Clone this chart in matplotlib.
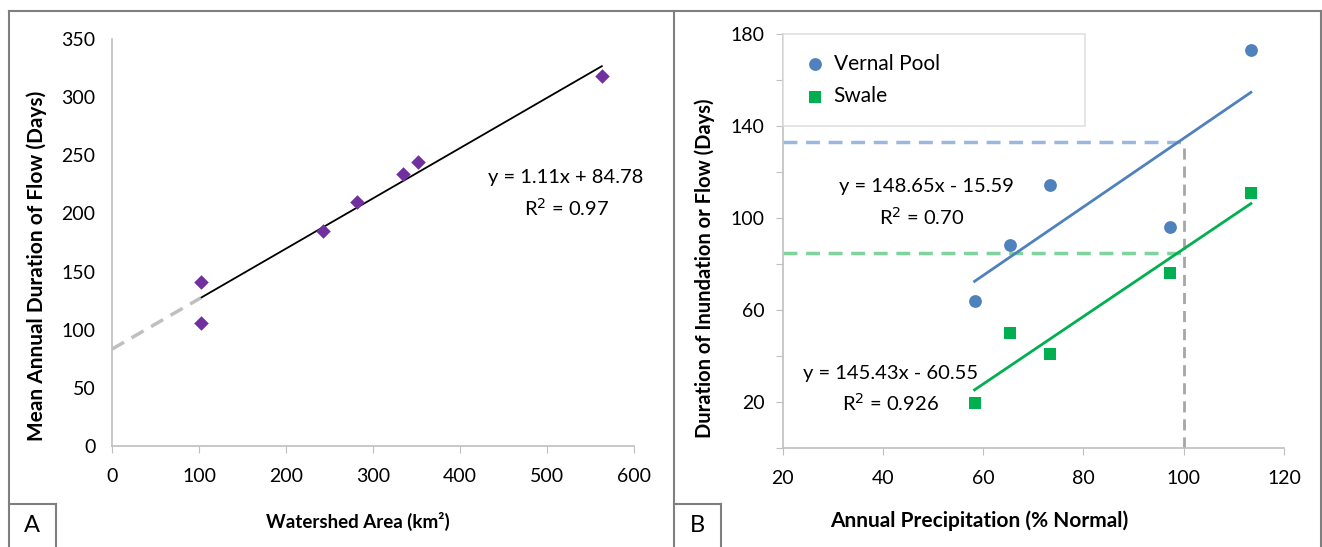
import numpy as np
import matplotlib
matplotlib.use("Agg")
import matplotlib.pyplot as plt
from matplotlib.lines import Line2D

plt.rcParams['font.family'] = ['Lato', 'DejaVu Sans']

# Panel A data
area = [102, 102, 242, 282, 335, 352, 563]
duration = [141, 106, 185, 210, 234, 244, 318]
eqA = "y = 1.11x + 84.78"
r2A = "R$^2$ = 0.97"

# Panel B data
precip = [58.3, 65.3, 73.4, 97.3, 113.4]
vernal = [63.7, 88.4, 114.3, 96.2, 173.0]
swale = [19.5, 50.0, 40.8, 75.9, 111.0]
eqV = "y = 148.65x - 15.59"
r2V = "R$^2$ = 0.70"
eqS = "y = 145.43x - 60.55"
r2S = "R$^2$ = 0.926"
normal_precip = 100

W, H = 1322, 547
fig = plt.figure(figsize=(W / 100, H / 100), dpi=100)

def fx(px):
    return px / W

def fy(py):
    return 1 - py / H

axis_col = '#bfbfbf'
tick_fs = 14
eq_fs = 14.5

# ---------- Panel A ----------
axA = fig.add_axes([fx(112), fy(446), fx(634) - fx(112), fy(39) - fy(446)])
axA.scatter(area, duration, marker='D', s=55, color='#7030A0', zorder=3, linewidths=0)
pA = np.polyfit(area, duration, 1)
xs = np.array([min(area), max(area)])
axA.plot(xs, np.polyval(pA, xs), color='black', lw=1.3, zorder=2)
xe = np.array([0, min(area)])
axA.plot(xe, np.polyval(pA, xe), color='#bfbfbf', lw=2.5, ls=(0, (4, 2.5)), zorder=2)
axA.set_xlim(0, 600)
axA.set_ylim(0, 350)
axA.set_xticks(range(0, 601, 100))
axA.set_yticks(range(0, 351, 50))
axA.tick_params(axis='x', direction='out', length=5, color=axis_col, labelsize=tick_fs, pad=11)
axA.tick_params(axis='y', length=0, labelsize=tick_fs, pad=12)
for s in ['top', 'right']:
    axA.spines[s].set_visible(False)
for s in ['left', 'bottom']:
    axA.spines[s].set_color(axis_col)
    axA.spines[s].set_linewidth(1.2)
axA.text(522, 231, eqA, fontsize=eq_fs, ha='center', va='center')
axA.text(522, 205, r2A, fontsize=eq_fs, ha='center', va='center')
fig.text(fx(37), fy(266), "Mean Annual Duration of Flow (Days)", rotation=90,
         fontsize=15, fontweight='bold', ha='center', va='center')
fig.text(fx(358), fy(521), "Watershed Area (km²)", fontsize=13.5,
         fontweight='bold', ha='center', va='center')

# ---------- Panel B ----------
axB = fig.add_axes([fx(782.5), fy(448), fx(1284) - fx(782.5), fy(34) - fy(448)])
axB.scatter(precip, vernal, marker='o', s=85, color='#4F81BD', zorder=3,
            linewidths=0, label='Vernal Pool')
axB.scatter(precip, swale, marker='s', s=75, color='#00B050', zorder=3,
            linewidths=0, label='Swale')
pV = np.polyfit(precip, vernal, 1)
pS = np.polyfit(precip, swale, 1)
xb = np.array([min(precip), max(precip)])
axB.plot(xb, np.polyval(pV, xb), color='#4F81BD', lw=2, zorder=2)
axB.plot(xb, np.polyval(pS, xb), color='#00B050', lw=2, zorder=2)
yV = 148.65 - 15.59
yS = 145.43 - 60.55
axB.plot([20, normal_precip], [yV, yV], color='#9bb7dd', lw=2.5, ls=(0, (4, 2.5)), zorder=1)
axB.plot([20, normal_precip], [yS, yS], color='#7fd49e', lw=2.5, ls=(0, (4, 2.5)), zorder=1)
axB.plot([normal_precip, normal_precip], [0, yV], color='#a6a6a6', lw=2, ls=(0, (4, 2.5)), zorder=1)
axB.set_xlim(20, 120)
axB.set_ylim(0, 180)
axB.set_xticks(range(20, 121, 20))
axB.set_yticks(range(0, 181, 20))
axB.set_yticklabels(['' if v % 40 == 0 else str(v) for v in range(0, 181, 20)])
axB.tick_params(axis='x', direction='out', length=5, color=axis_col, labelsize=tick_fs, pad=11)
axB.tick_params(axis='y', direction='out', length=5, color=axis_col, labelsize=tick_fs, pad=8)
for s in ['top', 'right']:
    axB.spines[s].set_visible(False)
for s in ['left', 'bottom']:
    axB.spines[s].set_color(axis_col)
    axB.spines[s].set_linewidth(1.2)
axB.text(48.8, 113.9, eqV, fontsize=eq_fs, ha='center', va='center')
axB.text(47.8, 100.4, r2V, fontsize=eq_fs, ha='center', va='center')
axB.text(41.5, 32.2, eqS, fontsize=eq_fs, ha='center', va='center')
axB.text(41.5, 19.6, r2S, fontsize=eq_fs, ha='center', va='center')
leg = axB.legend(loc='upper left', bbox_to_anchor=(0.0, 1.0, 0.604, 0.0), mode='expand',
                 fontsize=15, frameon=True, fancybox=False, edgecolor='#d9d9d9',
                 borderpad=0.95, labelspacing=0.6, handletextpad=0.3, borderaxespad=0,
                 handlelength=1.2, scatterpoints=1)
leg.get_frame().set_linewidth(1.2)
fig.text(fx(705), fy(268), "Duration of Inundation or Flow (Days)", rotation=90,
         fontsize=14.5, fontweight='bold', ha='center', va='center')
fig.text(fx(979), fy(521), "Annual Precipitation (% Normal)", fontsize=15,
         fontweight='bold', ha='center', va='center')

# ---------- Frames ----------
frame_col = '#7f7f7f'
def fline(x0, y0, x1, y1):
    fig.add_artist(Line2D([fx(x0), fx(x1)], [fy(y0), fy(y1)], color=frame_col, lw=1.5))

fline(9, 11, 1321, 11)
fline(9, 11, 9, 547)
fline(674, 11, 674, 547)
fline(1321, 11, 1321, 547)
# label boxes
fline(9, 504, 56, 504)
fline(56, 504, 56, 547)
fline(674, 504, 721, 504)
fline(721, 504, 721, 547)
fig.text(fx(32), fy(526), "A", fontsize=17, ha='center', va='center')
fig.text(fx(697), fy(526), "B", fontsize=17, ha='center', va='center')

fig.savefig("out.png", dpi=100)
